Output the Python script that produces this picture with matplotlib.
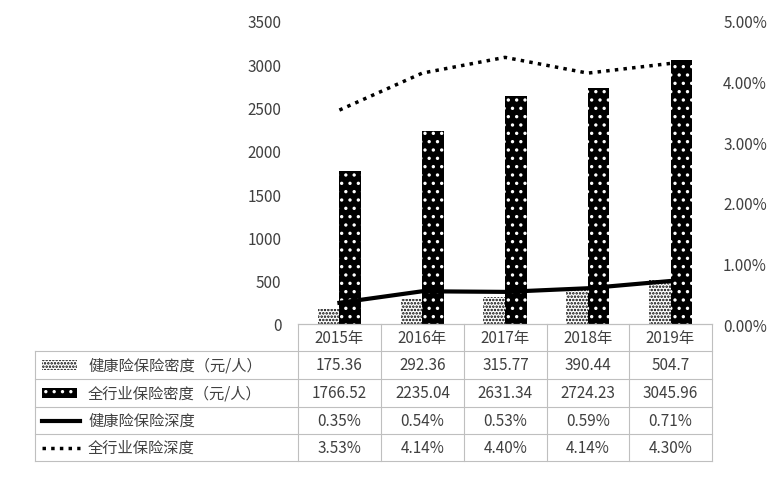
import matplotlib
matplotlib.use("Agg")
import matplotlib.pyplot as plt
from matplotlib.patches import Rectangle
import numpy as np

plt.rcParams['font.family'] = ['Noto Sans CJK SC', 'DejaVu Sans']
plt.rcParams['hatch.linewidth'] = 1.2

years = ['2015年', '2016年', '2017年', '2018年', '2019年']
health_density = [175.36, 292.36, 315.77, 390.44, 504.7]
all_density = [1766.52, 2235.04, 2631.34, 2724.23, 3045.96]
health_depth = [0.35, 0.54, 0.53, 0.59, 0.71]
all_depth = [3.53, 4.14, 4.40, 4.14, 4.30]
health_density_lbl = ['175.36', '292.36', '315.77', '390.44', '504.7']
all_density_lbl = ['1766.52', '2235.04', '2631.34', '2724.23', '3045.96']
names = ['健康险保险密度（元/人）', '全行业保险密度（元/人）', '健康险保险深度', '全行业保险深度']

W, H = 784, 485
fig = plt.figure(figsize=(W/100, H/100), dpi=100)
L, R, T, B = 298, 712, 22, 325
ax = fig.add_axes([L/W, 1-B/H, (R-L)/W, (B-T)/H])
x = np.arange(5)
bw = 0.26
ax.bar(x-bw/2, health_density, bw, facecolor='white', edgecolor='black', hatch='.....', linewidth=0)
ax.bar(x+bw/2, all_density, bw, facecolor='black', edgecolor='white', hatch='..', linewidth=0)
ax.set_xlim(-0.5, 4.5)
ax.set_ylim(0, 3500)
ax.set_yticks(range(0, 3501, 500))
ax.set_xticks([])
for s in ['top', 'right', 'left']:
    ax.spines[s].set_visible(False)
ax.spines['bottom'].set_color('#bfbfbf')
ax.tick_params(axis='y', length=0, labelsize=11, colors='#404040', pad=12)
ax2 = ax.twinx()
ax2.plot(x, health_depth, color='black', lw=3)
ax2.plot(x, all_depth, color='black', lw=2.5, ls=(0, (1, 1.5)))
ax2.set_ylim(0, 5)
ax2.set_yticks(np.arange(0, 5.01, 1))
ax2.set_yticklabels([f'{v:.2f}%' for v in np.arange(0, 5.01, 1)])
ax2.tick_params(axis='y', length=0, labelsize=11, colors='#404040', pad=8)
for s in ['top', 'right', 'left', 'bottom']:
    ax2.spines[s].set_visible(False)

# table
tb = fig.add_axes([0, 0, 1, 1]); tb.set_xlim(0, W); tb.set_ylim(H, 0); tb.axis('off')
cols = [298, 381, 464, 547, 629, 712]
rows = [325, 352, 380, 408, 435, 462]
lc = '#bfbfbf'
for cx in cols:
    tb.plot([cx, cx], [rows[0], rows[-1]], color=lc, lw=0.8)
tb.plot([35, 35], [rows[1], rows[-1]], color=lc, lw=0.8)
for i, ry in enumerate(rows):
    x0 = 298 if i == 0 else 35
    tb.plot([x0, 712], [ry, ry], color=lc, lw=0.8)
data = [health_density_lbl, all_density_lbl,
        [f'{v:.2f}%' for v in health_depth], [f'{v:.2f}%' for v in all_depth]]
for j in range(5):
    cxm = (cols[j]+cols[j+1])/2
    tb.text(cxm, (rows[0]+rows[1])/2, years[j], ha='center', va='center', fontsize=11, color='#404040')
    for i in range(4):
        tb.text(cxm, (rows[i+1]+rows[i+2])/2, data[i][j], ha='center', va='center', fontsize=11, color='#404040')
for i in range(4):
    yc = (rows[i+1]+rows[i+2])/2
    tb.text(88, yc, names[i], ha='left', va='center', fontsize=11, color='#404040')
tb.add_patch(Rectangle((42, yc0 := (rows[1]+rows[2])/2 - 5), 35, 10, facecolor='white', edgecolor='black', hatch='.....', lw=0))
tb.add_patch(Rectangle((42, (rows[2]+rows[3])/2 - 5), 35, 10, facecolor='black', edgecolor='white', hatch='..', lw=0))
tb.plot([42, 80], [(rows[3]+rows[4])/2]*2, color='black', lw=3)
tb.plot([42, 80], [(rows[4]+rows[5])/2]*2, color='black', lw=2.5, ls=(0, (1, 1.5)))
fig.savefig('out.png', dpi=100)
